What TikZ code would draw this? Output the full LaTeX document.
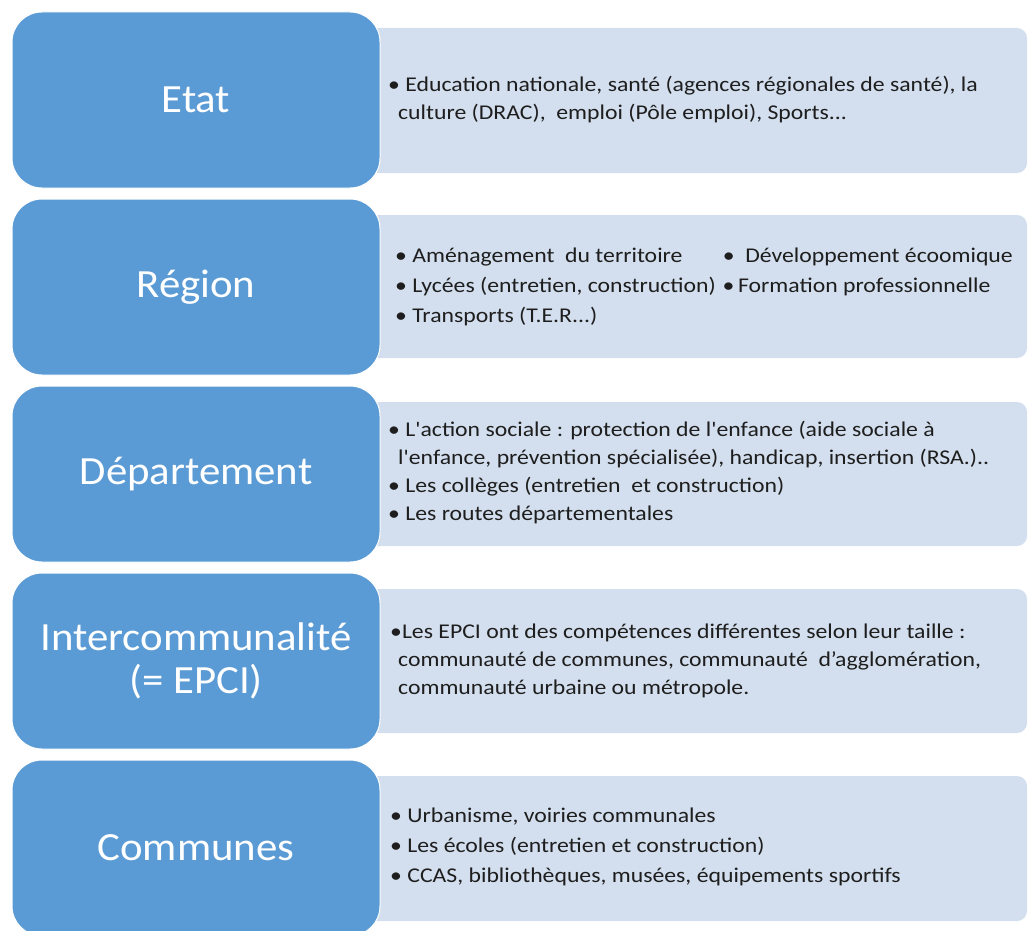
\documentclass[tikz,border=0pt]{standalone}
\usepackage{fontspec}
\setmainfont{Carlito}
\newfontfamily\corpsfont[FakeStretch=1.13]{Carlito}
\newfontfamily\titrefont[FakeStretch=1.07]{Carlito}
\usetikzlibrary{positioning}
\definecolor{niveaubleu}{RGB}{91,155,213}
\definecolor{competencefond}{RGB}{211,223,238}
\definecolor{textegris}{RGB}{30,30,30}
\tikzset{
  niveau/.style={fill=niveaubleu,draw=white,line width=1pt,rounded corners=30pt},
  competence/.style={fill=competencefond,draw=none,rounded corners=10pt},
  titre/.style={text=white,align=center,font=\titrefont\fontsize{40}{43}\selectfont},
  liste/.style={anchor=west,align=left,inner sep=0pt,text=textegris,font=\corpsfont\fontsize{21}{28}\selectfont},
  listelarge/.style={liste,font=\corpsfont\fontsize{21}{30}\selectfont}
}

\begin{document}
\begin{tikzpicture}[x=1pt,y=-1pt]
  \clip (0,0) rectangle (1028,931);
  % Etat
  \draw[style=competence] (300,28) rectangle (1027,173);
  \draw[style=niveau] (12,12) rectangle (380,188) node(etat)[pos=.5,titre] {Etat};
  \node(etatTxt)[liste] at (388,100) {\textbullet\ Education nationale, santé (agences régionales de santé), la\\
    \hspace*{10pt}culture (DRAC),\ \ emploi (Pôle emploi), Sports...};
  % Region
  \draw[style=competence] (300,215) rectangle (1027,358);
  \draw[style=niveau] (12,199) rectangle (380,375) node(region)[pos=.5,titre] {Région};
  \node(regionTxt)[listelarge] at (395,286) {\begin{tabular}{@{}l@{\hspace{7pt}}l@{}}
    \textbullet\ Aménagement\ \ du territoire & \textbullet\ \ Développement écoomique\\
    \textbullet\ Lycées (entretien, construction) & \textbullet\,Formation professionnelle\\
    \textbullet\ Transports (T.E.R...) &
  \end{tabular}};
  % Departement
  \draw[style=competence] (300,402) rectangle (1027,546);
  \draw[style=niveau] (12,386) rectangle (380,562) node(departement)[pos=.5,titre] {Département};
  \node(departementTxt)[liste] at (388,473) {\textbullet\ L'action sociale : protection de l'enfance (aide sociale à\\
    \hspace*{10pt}l'enfance, prévention spécialisée), handicap, insertion (RSA.)..\\
    \textbullet\ Les collèges (entretien\ \ et construction)\\
    \textbullet\ Les routes départementales};
  % EPCI
  \draw[style=competence] (300,589) rectangle (1027,733);
  \draw[style=niveau] (12,573) rectangle (380,749) node(epci)[pos=.5,titre] {Intercommunalité\\(= EPCI)};
  \node(epciTxt)[liste] at (390,661) {\textbullet Les EPCI ont des compétences différentes selon leur taille :\\
    \hspace*{8pt}communauté de communes, communauté\ \ d’agglomération,\\
    \hspace*{8pt}communauté urbaine ou métropole.};
  % Communes
  \draw[style=competence] (300,776) rectangle (1027,921);
  \draw[style=niveau] (12,760) rectangle (380,936) node(communes)[pos=.5,titre] {Communes};
  \node(communesTxt)[listelarge] at (390,847) {\textbullet\ Urbanisme, voiries communales\\
    \textbullet\ Les écoles (entretien et construction)\\
    \textbullet\ CCAS, bibliothèques, musées, équipements sportifs};
\end{tikzpicture}
\end{document}
